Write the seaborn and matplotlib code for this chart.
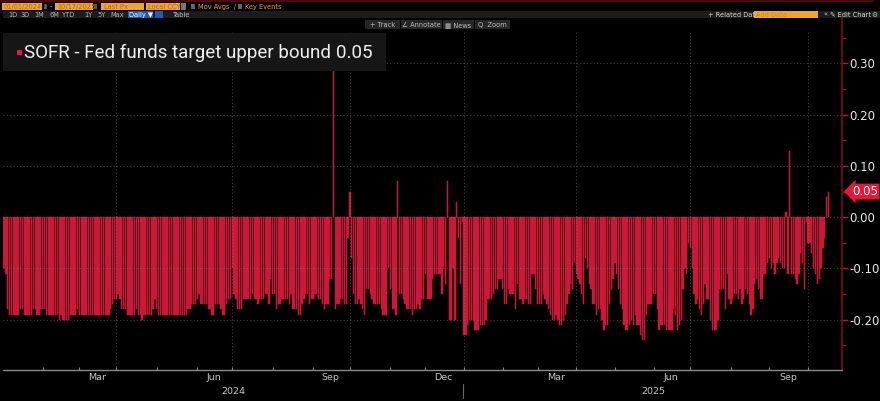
import numpy as np
import pandas as pd
import seaborn as sns
import matplotlib.pyplot as plt
from matplotlib.patches import Rectangle
from matplotlib.lines import Line2D
from matplotlib.ticker import FixedLocator, MultipleLocator, FormatStrFormatter
from matplotlib.transforms import blended_transform_factory

# SOFR minus Fed funds target upper bound (pct points), one value per SOFR fixing day
jan24 = [-0.10, -0.11, -0.18, -0.19, -0.19, -0.19, -0.19, -0.19, -0.19, -0.18, -0.18,
         -0.19, -0.19, -0.19, -0.19, -0.19, -0.18, -0.18, -0.19, -0.19, -0.18]
feb24 = [-0.18, -0.18, -0.19, -0.19, -0.19, -0.19, -0.19, -0.19, -0.19, -0.20,
         -0.19, -0.20, -0.20, -0.20, -0.20, -0.19, -0.19, -0.19, -0.19, -0.18]
mar24 = [-0.19, -0.19, -0.19, -0.19, -0.19, -0.19, -0.19, -0.19, -0.19, -0.19,
         -0.19, -0.19, -0.19, -0.19, -0.19, -0.19, -0.19, -0.18, -0.17, -0.16]
apr24 = [-0.16, -0.15, -0.16, -0.18, -0.18, -0.18, -0.19, -0.19, -0.19, -0.19, -0.19,
         -0.18, -0.19, -0.19, -0.20, -0.19, -0.19, -0.19, -0.19, -0.19, -0.18, -0.16]
may24 = [-0.18, -0.19, -0.19, -0.19, -0.19, -0.19, -0.19, -0.19, -0.19, -0.19, -0.19,
         -0.19, -0.19, -0.19, -0.19, -0.19, -0.19, -0.18, -0.18, -0.17, -0.17, -0.17]
jun24 = [-0.16, -0.15, -0.17, -0.17, -0.17, -0.17, -0.18, -0.18, -0.19, -0.19,
         -0.17, -0.17, -0.17, -0.18, -0.19, -0.19, -0.17, -0.16, -0.16]
jul24 = [-0.10, -0.15, -0.16, -0.18, -0.18, -0.18, -0.16, -0.16, -0.16, -0.16, -0.16,
         -0.15, -0.16, -0.16, -0.17, -0.16, -0.16, -0.16, -0.15, -0.15, -0.17, -0.12]
aug24 = [-0.15, -0.15, -0.18, -0.17, -0.17, -0.16, -0.16, -0.16, -0.16, -0.17, -0.15,
         -0.18, -0.18, -0.18, -0.19, -0.19, -0.17, -0.16, -0.15, -0.15, -0.17, -0.16]
sep24 = [-0.16, -0.15, -0.15, -0.16, -0.16, -0.17, -0.18, -0.17, -0.17, -0.12,
         -0.12, 0.31, -0.18, -0.17, -0.17, -0.16, -0.16, -0.17, -0.17, -0.04]
oct24 = [0.05, -0.08, -0.15, -0.17, -0.17, -0.16, -0.17, -0.18, -0.19, -0.14, -0.14,
         -0.15, -0.16, -0.17, -0.17, -0.17, -0.17, -0.18, -0.19, -0.19, -0.19, -0.10]
nov24 = [-0.14, -0.18, -0.18, -0.19, 0.07, -0.15, -0.15, -0.16, -0.17, -0.18,
         -0.18, -0.18, -0.19, -0.18, -0.18, -0.17, -0.18, -0.16, -0.16]
dec24 = [-0.11, -0.16, -0.16, -0.16, -0.12, -0.11, -0.11, -0.11, -0.11, -0.15, -0.10,
         -0.13, 0.07, -0.20, -0.20, -0.10, -0.20, 0.03, -0.04, -0.13, -0.01]
jan25 = [-0.23, -0.23, -0.21, -0.20, -0.20, -0.20, -0.22, -0.22, -0.22, -0.21, -0.21,
         -0.21, -0.20, -0.16, -0.16, -0.16, -0.15, -0.14, -0.14, -0.12, -0.12]
feb25 = [-0.14, -0.17, -0.17, -0.14, -0.15, -0.15, -0.15, -0.18, -0.13, -0.16,
         -0.16, -0.17, -0.16, -0.16, -0.17, -0.17, -0.11, -0.11, -0.14]
mar25 = [-0.17, -0.17, -0.17, -0.15, -0.16, -0.17, -0.18, -0.19, -0.20, -0.20, -0.19,
         -0.20, -0.21, -0.21, -0.20, -0.19, -0.17, -0.15, -0.13, -0.14, -0.09]
apr25 = [-0.11, -0.12, -0.13, -0.15, -0.17, -0.08, -0.10, -0.13, -0.14, -0.17, -0.17,
         -0.19, -0.18, -0.18, -0.20, -0.22, -0.21, -0.21, -0.17, -0.14, -0.12]
may25 = [-0.09, -0.11, -0.14, -0.17, -0.18, -0.21, -0.22, -0.22, -0.21, -0.20, -0.21,
         -0.19, -0.21, -0.21, -0.23, -0.24, -0.24, -0.19, -0.17, -0.17, -0.17]
jun25 = [-0.15, -0.15, -0.18, -0.22, -0.21, -0.21, -0.21, -0.22, -0.22, -0.22,
         -0.22, -0.18, -0.19, -0.22, -0.21, -0.20, -0.14, -0.10, -0.11, -0.05]
jul25 = [-0.06, -0.10, -0.15, -0.17, -0.16, -0.18, -0.19, -0.17, -0.13, -0.16, -0.16,
         -0.20, -0.22, -0.22, -0.22, -0.20, -0.14, -0.14, -0.14, -0.18, -0.11, -0.16]
aug25 = [-0.17, -0.16, -0.15, -0.15, -0.16, -0.14, -0.17, -0.16, -0.14, -0.15, -0.17,
         -0.19, -0.18, -0.13, -0.12, -0.14, -0.16, -0.16, -0.11, -0.11, -0.09]
sep25 = [-0.08, -0.10, -0.09, -0.11, -0.09, -0.08, -0.09, -0.10, -0.10, 0.01, -0.11,
         0.13, -0.11, -0.11, -0.12, -0.13, -0.11, -0.07, -0.09, -0.14, -0.01]
oct25 = [-0.05, -0.05, -0.07, -0.10, -0.11, -0.13, -0.12, -0.10, -0.06, -0.04, 0.04, 0.05]

spread = (jan24 + feb24 + mar24 + apr24 + may24 + jun24 + jul24 + aug24 + sep24 + oct24
          + nov24 + dec24 + jan25 + feb25 + mar25 + apr25 + may25 + jun25 + jul25 + aug25
          + sep25 + oct25)

# days with no SOFR fixing
holidays = ['2024-01-01', '2024-01-15', '2024-02-19', '2024-03-29', '2024-05-27',
            '2024-06-19', '2024-07-04', '2024-09-02', '2024-10-14', '2024-11-11',
            '2024-11-28', '2024-12-25', '2025-01-01', '2025-01-20', '2025-02-17',
            '2025-04-18', '2025-05-26', '2025-06-19', '2025-07-04', '2025-09-01',
            '2025-10-13']
dates = pd.bdate_range('2024-01-02', '2025-12-31', freq='C', holidays=holidays)[:len(spread)]

last_value = '0.05'
year_labels = ['2024', '2025']
legend_label = 'SOFR - Fed funds target upper bound'

df = pd.DataFrame({'pos': np.arange(len(spread)), 'spread': spread, 'date': dates})

BAR = '#cc1838'
W, H = 880, 401

sns.set_theme(style='dark', rc={'axes.facecolor': 'black', 'figure.facecolor': 'black'})
plt.rcParams['font.family'] = ['DejaVu Sans']
plt.rcParams['axes.unicode_minus'] = False

fig = plt.figure(figsize=(W / 100, H / 100), dpi=100, facecolor='black')
ax = fig.add_axes([3 / W, 1 - 370 / H, 839 / W, 340 / H])
ax.set_facecolor('black')

sns.barplot(data=df, x='pos', y='spread', native_scale=True, width=0.72, color=BAR,
            saturation=1, errorbar=None, edgecolor=BAR, linewidth=0.35, ax=ax)

x_right = len(spread) + 6.4
ax.set_xlim(-0.55, x_right)
ax.set_ylim(-0.298, 0.365)

# month / quarter positions from the calendar
month = df['date'].dt.to_period('M')
starts = df.index[month != month.shift()].tolist()[1:]
quarter_starts = [i for i in starts if df['date'][i].month in (1, 4, 7, 10)]

# grid
grid_kw = dict(color='#808080', lw=0.8, linestyle=(0, (1, 2)), alpha=0.5, zorder=3)
for yv in [-0.2, -0.1, 0.0, 0.1, 0.2, 0.3]:
    ax.axhline(yv, **grid_kw)
for q in quarter_starts:
    ax.axvline(q, **grid_kw)

# right axis
ax.yaxis.tick_right()
ax.yaxis.set_major_locator(FixedLocator([-0.2, -0.1, 0.0, 0.1, 0.2, 0.3]))
ax.yaxis.set_minor_locator(MultipleLocator(0.05))
ax.yaxis.set_major_formatter(FormatStrFormatter('%.2f'))
ax.tick_params(axis='y', which='major', colors='#d0102c', labelcolor='#e8e8e8',
               length=4, width=1, labelsize=8.5, pad=1.5, right=True, left=False)
ax.tick_params(axis='y', which='minor', colors='#a0102a', length=3, width=1,
               right=True, left=False)
ax.set_ylabel('')
ax.set_xlabel('')

# bottom axis
ax.xaxis.set_major_locator(FixedLocator(quarter_starts))
ax.xaxis.set_minor_locator(FixedLocator(starts))
ax.tick_params(axis='x', which='both', direction='in', colors='#8a8a8a',
               length=2.5, width=0.8, labelbottom=False, bottom=True)

for side in ['left', 'top']:
    ax.spines[side].set_visible(False)
ax.spines['right'].set_color('#7a0c1c')
ax.spines['right'].set_linewidth(1.2)
ax.spines['bottom'].set_color('#8a8a8a')
ax.spines['bottom'].set_linewidth(1)

trans = blended_transform_factory(ax.transData, ax.transAxes)
for mname, mnum in [('Mar', 3), ('Jun', 6), ('Sep', 9), ('Dec', 12)]:
    for yr in (2024, 2025):
        idx = df.index[(df['date'].dt.month == mnum) & (df['date'].dt.year == yr)]
        if len(idx):
            ax.text(idx.to_numpy().mean(), -0.021, mname, transform=trans, ha='center',
                    va='center', fontsize=6.8, color='#c8c8c8', clip_on=False)
first_2025 = df.index[df['date'].dt.year == 2025][0]
ax.text((0 + first_2025 - 1) / 2, -0.062, year_labels[0], transform=trans, ha='center',
        va='center', fontsize=6.8, color='#c8c8c8', clip_on=False)
ax.text((first_2025 + x_right) / 2, -0.062, year_labels[1], transform=trans, ha='center',
        va='center', fontsize=6.8, color='#c8c8c8', clip_on=False)
ax.add_line(Line2D([first_2025 - 0.5] * 2, [-0.040, -0.082], transform=trans,
                   color='#666666', lw=0.8, clip_on=False))

# current value tag
vtrans = blended_transform_factory(ax.transAxes, ax.transData)
ax.text(1.012, float(oct25[-1]), last_value, transform=vtrans, ha='left', va='center',
        fontsize=8.5, color='white', clip_on=False,
        bbox=dict(boxstyle='larrow,pad=0.12', fc='#e8173a', ec='none'))


# ---- Bloomberg toolbar + legend (figure pixel coords) ----
def box(x0, y0, x1, y1, color):
    fig.add_artist(Rectangle((x0 / W, 1 - y1 / H), (x1 - x0) / W, (y1 - y0) / H,
                             transform=fig.transFigure, fc=color, ec='none', zorder=1))


def label(x, y, s, color, size=4.8, ha='left', **kw):
    fig.text(x / W, 1 - y / H, s, color=color, fontsize=size, ha=ha, va='center', **kw)


fig.add_artist(Line2D([0, 873 / W], [1 - 0.8 / H] * 2, color='#5c0d0d', lw=1.2))
fig.add_artist(Line2D([842 / W] * 2, [1 - 18 / H, 1 - 30 / H], color='#7a0c1c', lw=1.2))

ORANGE = '#f0a52a'
box(2, 3, 42, 10, ORANGE); label(4, 6.6, '01/01/2024', '#b8650a')
box(44, 4, 47, 9, '#555555'); label(50, 6.6, '-', '#cccccc')
box(55, 3, 93, 10, ORANGE); label(57, 6.6, '10/17/2025', '#b8650a')
box(94, 4, 97, 9, '#555555')
box(101, 3, 144, 10, ORANGE); label(104, 6.6, 'Last Px', '#b8650a')
box(146, 3, 180, 10, ORANGE); label(148, 6.6, 'Local CCY', '#b8650a')
box(181, 3, 186, 10, '#777777')
box(191, 4, 195, 9, '#666666'); label(198, 6.6, 'Mov Avgs  /', '#e8a030')
box(238, 4, 242, 9, '#666666'); label(245, 6.6, 'Key Events', '#e8a030')

box(3, 11, W, 18, '#1c1c1c')
for x, s in [(13, '1D'), (25, '3D'), (39, '1M'), (54, '6M'), (69, 'YTD'),
             (88, '1Y'), (102, '5Y'), (117, 'Max')]:
    label(x, 14.6, s, '#b8b8b8', ha='center')
box(128, 11, 153, 18, '#1f5bb5'); label(140.5, 14.6, 'Daily ▼', 'white', ha='center')
box(155, 11, 163, 18, '#1f5bb5')
label(182, 14.6, 'Table', '#c8c8c8', ha='center')
label(731, 14.6, '+ Related Dat', '#dddddd', ha='center')
box(754, 11, 818, 18, ORANGE); label(756, 14.6, 'Add Data', '#d08a20')
label(823, 14.6, '«', '#cccccc')
label(850, 14.6, '✎ Edit Chart', '#dddddd', ha='center')
label(874, 14.6, '⚙', '#cccccc', ha='center')

for x0, x1, s in [(365, 400, '+ Track'), (401, 442, '∠ Annotate'),
                  (443, 474, '▦ News'), (475, 510, 'Q  Zoom')]:
    box(x0, 20, x1, 29, '#262626')
    label((x0 + x1) / 2, 24.6, s, '#bdbdbd', ha='center')

# legend box
box(3, 33, 386, 71, '#161616')
box(17, 50, 22, 55, '#e8173a')
fig.text(24 / W, 1 - 53 / H, legend_label, color='#f0f0f0', fontsize=13.5,
         family='Roboto', ha='left', va='center', zorder=3)
fig.text(336 / W, 1 - 53 / H, last_value, color='#f0f0f0', fontsize=13.5,
         family='Roboto', ha='left', va='center', zorder=3)

fig.savefig('out.png', dpi=100, facecolor='black')
